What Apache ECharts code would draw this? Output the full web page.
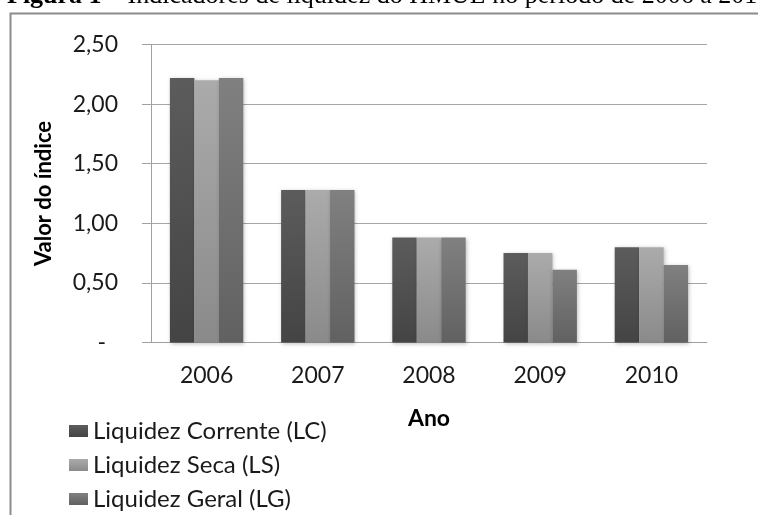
<!DOCTYPE html>
<html>
<head>
<meta charset="utf-8">
<script src="https://cdn.jsdelivr.net/npm/echarts@6/dist/echarts.min.js"></script>
<style>
  html, body { margin: 0; padding: 0; background: #fff; }
  #chart { width: 758px; height: 515px; }
</style>
</head>
<body>
<div id="chart"></div>
<script>
// dados
var anos = ['2006', '2007', '2008', '2009', '2010'];
var liqCorrente = [2.22, 1.28, 0.88, 0.75, 0.80];
var liqSeca = [2.20, 1.28, 0.88, 0.75, 0.80];
var liqGeral = [2.22, 1.28, 0.88, 0.61, 0.65];
var seriesNames = ['Liquidez Corrente (LC)', 'Liquidez Seca (LS)', 'Liquidez Geral (LG)'];

var FONT = 'Lato, "Open Sans", sans-serif';

function grad (top, bottom) {
  return new echarts.graphic.LinearGradient(0, 0, 0, 1, [
    { offset: 0, color: top },
    { offset: 1, color: bottom }
  ]);
}

function fmtY (v) {
  if (v === 0) return '{d|-}';
  return v.toFixed(2).replace('.', ',');
}

var barStyle = function (top, bottom) {
  return {
    color: grad(top, bottom),
    shadowBlur: 4,
    shadowColor: 'rgba(0,0,0,0.25)',
    shadowOffsetX: 1,
    shadowOffsetY: 1
  };
};

var myChart = echarts.init(document.getElementById('chart'));
myChart.setOption({
  animation: false,
  backgroundColor: '#fff',
  textStyle: { fontFamily: FONT },
  graphic: [
    {
      type: 'text',
      x: 7,
      y: -4,
      style: {
        text: '{b|Figura 1 –} Indicadores de liquidez do HMUL no período de 2006 a 2010',
        fontFamily: '"Liberation Serif", "Times New Roman", serif',
        fontSize: 26,
        fill: '#000',
        verticalAlign: 'middle',
        rich: {
          b: { fontWeight: 'bold', fontFamily: '"Liberation Serif", serif', fontSize: 26 }
        }
      }
    },
    {
      type: 'polyline',
      shape: { points: [[10.5, 515], [10.5, 13.5], [758, 13.5]] },
      style: { stroke: '#8c8c8c', lineWidth: 2, fill: null }
    }
  ],
  grid: { left: 151, right: 51, top: 44.5, bottom: 172.5 },
  legend: {
    orient: 'vertical',
    left: 69,
    top: 419,
    padding: 0,
    height: 96,
    itemWidth: 19,
    itemHeight: 12,
    itemGap: 10,
    icon: 'rect',
    data: seriesNames,
    textStyle: { fontFamily: FONT, fontSize: 24, color: '#1a1a1a', lineHeight: 23 }
  },
  xAxis: {
    type: 'category',
    data: anos,
    name: 'Ano',
    nameLocation: 'middle',
    nameGap: 65,
    nameTextStyle: { fontFamily: FONT, fontSize: 23, fontWeight: 'bold', color: '#000' },
    axisLine: { lineStyle: { color: '#a0a0a0', width: 1 } },
    axisTick: { length: 8, lineStyle: { color: '#a0a0a0' } },
    axisLabel: { margin: 22, fontSize: 23, color: '#1a1a1a', fontFamily: FONT }
  },
  yAxis: {
    type: 'value',
    min: 0,
    max: 2.5,
    interval: 0.5,
    name: 'Valor do índice',
    nameLocation: 'middle',
    nameGap: 96,
    nameTextStyle: { fontFamily: FONT, fontSize: 22, fontWeight: 'bold', color: '#000' },
    axisLine: { show: true, lineStyle: { color: '#a0a0a0', width: 1 } },
    axisTick: { show: true, length: 9, lineStyle: { color: '#a0a0a0' } },
    splitLine: { lineStyle: { color: '#a6a6a6', width: 1 } },
    axisLabel: {
      margin: 33,
      fontSize: 23,
      color: '#1a1a1a',
      fontFamily: FONT,
      formatter: fmtY,
      rich: { d: { fontSize: 23, color: '#1a1a1a', padding: [0, 12, 0, 0] } }
    }
  },
  series: [
    {
      name: seriesNames[0],
      type: 'bar',
      data: liqCorrente,
      barGap: '0%',
      barCategoryGap: '34%',
      itemStyle: barStyle('#5c5c5c', '#444444')
    },
    {
      name: seriesNames[1],
      type: 'bar',
      data: liqSeca,
      itemStyle: barStyle('#ababab', '#8a8a8a')
    },
    {
      name: seriesNames[2],
      type: 'bar',
      data: liqGeral,
      itemStyle: barStyle('#808080', '#616161')
    }
  ]
});
</script>
</body>
</html>
